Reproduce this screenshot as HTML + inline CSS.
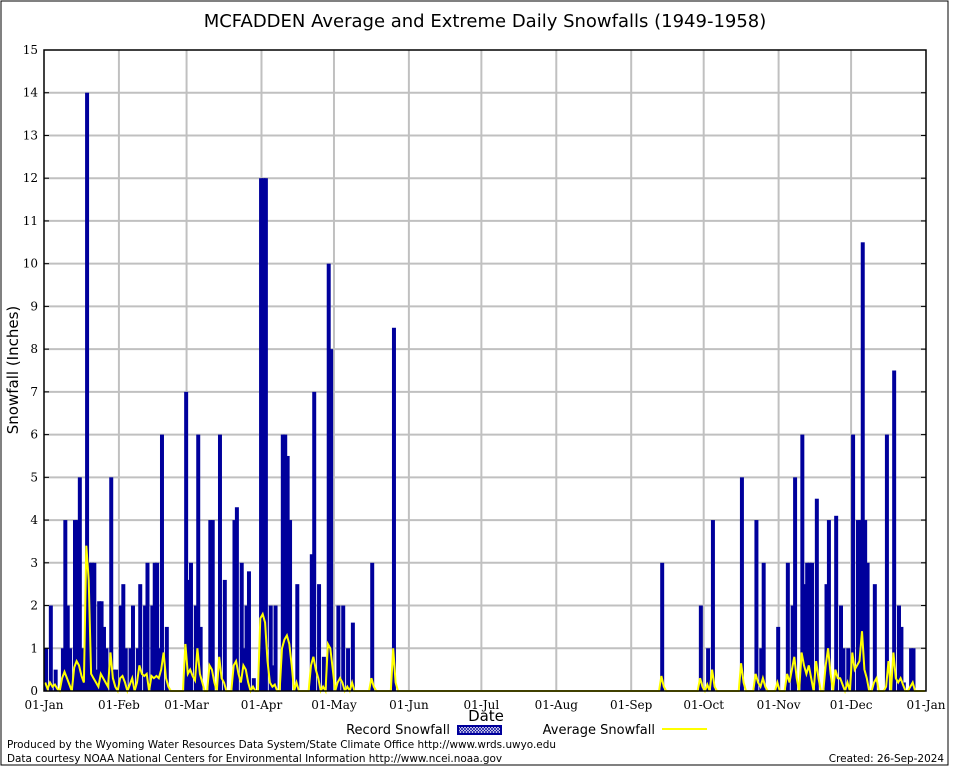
<!DOCTYPE html>
<html><head><meta charset="utf-8"><style>
html,body{margin:0;padding:0;background:#fff}
svg{display:block}
.t{font-family:"DejaVu Serif","Liberation Serif",serif;font-size:12px}
.s{font-family:"DejaVu Sans","Liberation Sans",sans-serif}
</style></head><body>
<svg id="chart" width="954" height="768" viewBox="0 0 954 768" xmlns="http://www.w3.org/2000/svg">
<defs><pattern id="hatch" width="3" height="3" patternUnits="userSpaceOnUse"><rect width="3" height="3" fill="#fff"/><path d="M0,0 L3,3 M3,0 L0,3" stroke="#00009c" stroke-width="0.7"/></pattern></defs>
<rect x="1" y="1" width="947" height="764" fill="#fff" stroke="#000" stroke-width="1"/>
<text x="485" y="27" text-anchor="middle" class="s" font-size="18">MCFADDEN Average and Extreme Daily Snowfalls (1949-1958)</text>
<g id="grid"></g>
<g id="bars"></g>
<g id="avg"></g>
<g id="axes"></g>
<text transform="translate(18,370) rotate(-90)" text-anchor="middle" class="s" font-size="15">Snowfall (Inches)</text>
<text x="486" y="721" text-anchor="middle" class="s" font-size="15">Date</text>
<g>
<text x="450" y="734" text-anchor="end" class="s" font-size="13">Record Snowfall</text>
<rect x="458" y="726" width="43" height="8" fill="url(#hatch)" stroke="#00009c" stroke-width="2"/>
<text x="655" y="734" text-anchor="end" class="s" font-size="13">Average Snowfall</text>
<line x1="662" y1="729" x2="707" y2="729" stroke="#ffff00" stroke-width="2"/>
</g>
<text x="7" y="748" class="s" font-size="10.45">Produced by the Wyoming Water Resources Data System/State Climate Office http://www.wrds.uwyo.edu</text>
<text x="7" y="762" class="s" font-size="10.45">Data courtesy NOAA National Centers for Environmental Information http://www.ncei.noaa.gov</text>
<text x="944" y="762" text-anchor="end" class="s" font-size="10.45">Created: 26-Sep-2024</text>
</svg>
<script>
const monthLabels=["01-Jan","01-Feb","01-Mar","01-Apr","01-May","01-Jun","01-Jul","01-Aug","01-Sep","01-Oct","01-Nov","01-Dec","01-Jan"];
const monthStarts=[0,31,59,90,120,151,181,212,243,273,304,334,365];
const yTicks=[0,1,2,3,4,5,6,7,8,9,10,11,12,13,14,15];
const recordDays=[0,2,4,7,8,9,10,12,13,14,15,16,17,18,19,20,21,22,23,24,25,27,28,29,31,32,33,35,36,38,39,41,42,44,45,46,47,48,50,58,59,60,62,63,64,68,69,72,74,78,79,81,82,83,84,86,89,90,91,93,94,95,98,99,100,101,104,110,111,113,115,117,118,121,123,125,127,135,144,255,271,274,276,288,294,296,297,303,307,309,310,313,314,315,316,317,319,323,324,327,329,330,332,334,336,337,338,339,340,343,348,351,353,354,355,358,359];
const recordValues=[1,2,0.5,1,4,2,1,4,4,5,1,1,14,3,3,3,0.5,2.1,2.1,1.5,1,5,0.5,0.5,2,2.5,1,1,2,1,2.5,2,3,2,3,3,1,6,1.5,7,2.6,3,2,6,1.5,4,4,6,2.6,4,4.3,3,1,2,2.8,0.3,12,12,12,2,0.6,2,6,6,5.5,4,2.5,3.2,7,2.5,0.8,10,8,2,2,1,1.6,3,8.5,3,2,1,4,5,4,1,3,1.5,3,2,5,6,2.5,3,3,3,4.5,2.5,4,4.1,2,1,1,6,4,4,10.5,4,3,2.5,6,7.5,2,1.5,0.2,1,1];
const avgDays=[0,1,2,3,4,5,7,8,9,10,12,13,14,15,16,17,18,19,20,21,22,23,24,25,26,27,28,29,31,32,33,35,36,38,39,40,41,42,44,45,46,47,48,49,50,51,58,59,60,61,62,63,64,65,68,69,70,72,73,74,78,79,80,81,82,83,84,86,89,90,91,92,93,94,95,98,99,100,101,102,104,110,111,112,113,115,117,118,119,121,122,123,125,127,135,136,144,145,255,256,271,272,274,276,277,288,289,294,295,296,297,298,303,307,308,309,310,311,313,314,315,316,317,319,320,323,324,325,327,328,329,330,332,334,335,336,337,338,339,340,343,344,348,349,351,352,353,354,355,358,359];
const avgValues=[0.2,0.05,0.2,0.1,0.15,0.05,0.3,0.45,0.3,0.15,0.55,0.7,0.6,0.35,0.2,3.4,2.6,0.4,0.3,0.2,0.1,0.4,0.3,0.2,0.1,0.9,0.3,0.1,0.3,0.35,0.2,0.15,0.3,0.2,0.6,0.4,0.35,0.4,0.35,0.3,0.35,0.3,0.5,0.9,0.3,0.1,1.1,0.4,0.5,0.35,0.25,1.0,0.4,0.2,0.6,0.5,0.2,0.8,0.3,0.2,0.6,0.7,0.4,0.2,0.6,0.5,0.2,0.1,1.7,1.8,1.6,0.7,0.2,0.1,0.15,1.0,1.2,1.3,1.1,0.6,0.2,0.6,0.8,0.5,0.3,0.1,1.1,1.0,0.5,0.2,0.3,0.2,0.1,0.2,0.3,0.1,1.0,0.2,0.35,0.1,0.3,0.1,0.15,0.5,0.1,0.65,0.2,0.4,0.2,0.1,0.3,0.1,0.2,0.4,0.2,0.5,0.8,0.3,0.9,0.6,0.4,0.6,0.3,0.7,0.3,0.6,1.0,0.4,0.5,0.3,0.3,0.15,0.2,0.9,0.5,0.6,0.7,1.4,0.5,0.3,0.2,0.3,0.1,0.7,0.9,0.3,0.2,0.3,0.15,0.1,0.2,0.15];
const NS="http://www.w3.org/2000/svg";
const L=44,R=926,T=50,B=691,YMAX=15,DAYS=365;
function xs(d){return L+d*(R-L)/DAYS;}
function ys(v){return B-v*(B-T)/YMAX;}
function mk(tag,attrs,parent){const e=document.createElementNS(NS,tag);for(const k in attrs)e.setAttribute(k,attrs[k]);parent.appendChild(e);return e;}
const grid=document.getElementById('grid'),bars=document.getElementById('bars'),avg=document.getElementById('avg'),axes=document.getElementById('axes');
yTicks.forEach(v=>{
  if(v>0&&v<YMAX){const g=mk('line',{x1:L,x2:R,y1:ys(v),y2:ys(v),stroke:'#c0c0c0','stroke-width':2},grid);
  
  }
  const tk=mk('line',{x1:L,x2:L+5,y1:ys(v),y2:ys(v),stroke:'#000'},axes);
  
  
  const tk2=mk('line',{x1:R-5,x2:R,y1:ys(v),y2:ys(v),stroke:'#000'},axes);
  
  
  const t=mk('text',{x:L-6,y:ys(v)+4,'text-anchor':'end',class:'t'},axes);t.textContent=v;
  
  
});
monthStarts.forEach((d,i)=>{
  if(i>0&&i<12){const g=mk('line',{x1:xs(d),x2:xs(d),y1:T,y2:B,stroke:'#c0c0c0','stroke-width':2},grid);
  
  }
  const t=mk('text',{x:xs(d),y:709,'text-anchor':'middle',class:'t'},axes);t.textContent=monthLabels[i];
  
  
});
const bw=(R-L)/DAYS*1.65;
recordDays.forEach((d,i)=>{
  const v=recordValues[i];
  const r=mk('rect',{x:xs(d),y:ys(v),width:bw,height:B-ys(v),fill:'#00009c'},bars);
  
  
});
const avgAll=new Array(DAYS).fill(0);
avgDays.forEach((d,i)=>{avgAll[d]=avgValues[i];});
const pts=avgAll.map((v,d)=>xs(d+0.5).toFixed(1)+','+ys(v).toFixed(1)).join(' ');
const pl=mk('polyline',{points:pts,fill:'none',stroke:'#ffff00','stroke-width':2},avg);


const fr=mk('rect',{x:L,y:T,width:R-L,height:B-T,fill:'none',stroke:'#000','stroke-width':1.5},axes);


</script>
</body></html>
